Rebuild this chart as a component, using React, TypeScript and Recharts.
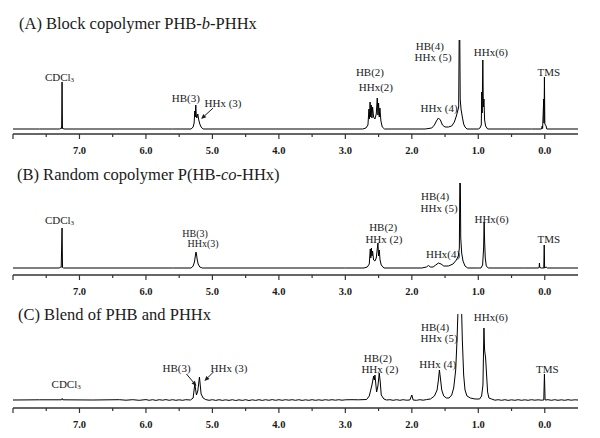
import React from "react";
import { LineChart, Line, XAxis, YAxis, ReferenceDot } from "recharts";

// chemical shift axis (ppm), drawn reversed as in NMR plots
const xTicks = [8, 7.5, 7, 6.5, 6, 5.5, 5, 4.5, 4, 3.5, 3, 2.5, 2, 1.5, 1, 0.5, 0];
const labeledTicks = [7, 6, 5, 4, 3, 2, 1, 0];

// [ppm, intensity]
const spectrumA: [number, number][] = [
  [8, 0], [7.6, 0], [7.3, 0], [7.28, 0.5], [7.272, 1.5], [7.268, 0.5], [7.262, 47], [7.256, 0.5], [7.25, 1], [7.24, 0],
  [5.6, 0], [5.32, 0], [5.29, 2], [5.275, 6], [5.265, 18], [5.258, 12], [5.25, 24], [5.243, 14], [5.235, 11], [5.22, 15], [5.205, 9], [5.19, 5], [5.17, 2], [5.14, 0],
  [3.2, 0], [2.74, 0], [2.69, 1], [2.66, 4], [2.645, 20], [2.637, 10], [2.628, 27], [2.62, 12], [2.61, 24], [2.6, 11], [2.59, 22], [2.575, 12], [2.555, 10], [2.535, 15], [2.52, 31], [2.51, 14], [2.5, 26], [2.49, 12], [2.48, 21], [2.465, 8], [2.445, 2], [2.41, 0],
  [1.8, 0], [1.7, 1], [1.66, 4], [1.63, 8], [1.6, 11], [1.57, 9], [1.54, 4], [1.5, 2], [1.45, 2], [1.4, 3], [1.36, 7], [1.33, 13], [1.31, 18], [1.295, 22], [1.288, 89], [1.278, 89], [1.272, 30], [1.26, 20], [1.24, 12], [1.22, 5], [1.2, 2], [1.17, 0],
  [1.0, 0], [0.975, 1], [0.955, 4], [0.948, 37], [0.942, 16], [0.932, 69], [0.924, 22], [0.915, 30], [0.905, 9], [0.89, 3], [0.86, 0],
  [0.2, 0], [0.05, 0], [0.038, 3], [0.032, 0.5], [0.016, 30], [0.011, 6], [0.005, 52], [-0.001, 5], [-0.02, 3], [-0.03, 0], [-0.5, 0],
];

const spectrumB: [number, number][] = [
  [8, 0], [7.3, 0], [7.285, 1], [7.275, 0.5], [7.262, 40], [7.255, 0.5], [7.24, 0],
  [5.6, 0], [5.32, 0], [5.29, 2], [5.27, 6], [5.255, 13], [5.248, 16], [5.24, 14], [5.23, 9], [5.215, 4], [5.19, 1], [5.15, 0],
  [3.0, 0], [2.72, 0], [2.67, 1], [2.64, 4], [2.625, 19], [2.617, 10], [2.608, 20], [2.6, 12], [2.59, 17], [2.575, 8], [2.555, 7], [2.535, 10], [2.51, 25], [2.5, 12], [2.49, 18], [2.478, 8], [2.46, 3], [2.42, 0],
  [1.85, 0], [1.78, 1], [1.75, 2.5], [1.72, 1], [1.68, 1], [1.64, 3], [1.6, 5], [1.56, 4], [1.52, 2], [1.45, 2], [1.38, 4], [1.33, 8], [1.3, 12], [1.285, 20], [1.278, 85], [1.27, 85], [1.264, 30], [1.25, 15], [1.23, 7], [1.2, 2], [1.16, 0],
  [1.0, 0], [0.96, 0], [0.935, 3], [0.92, 20], [0.912, 46], [0.904, 25], [0.895, 10], [0.88, 2], [0.85, 0],
  [0.3, 0], [0.1, 0], [0.085, 0.5], [0.08, 5], [0.075, 0.5], [0.05, 0], [0.015, 0], [0.008, 23], [0.002, 0], [-0.02, 1], [-0.04, 0], [-0.5, 0],
];

const spectrumC: [number, number][] = [
  [8, 0], [7.6, 0.2], [7.27, 0.2], [7.26, 1.5], [7.25, 0.2], [6.8, 0], [6.4, 0.3], [6.3, -0.2], [6.2, 0.3], [6.1, -0.3], [6.0, 0.4], [5.95, -0.3], [5.9, 0.3], [5.85, -0.4], [5.8, 0.3], [5.75, -0.2], [5.7, 0.4], [5.65, -0.3], [5.6, 0.3], [5.55, -0.3], [5.5, 0.2], [5.45, -0.3], [5.4, 0.3],
  [5.33, 0], [5.29, 2], [5.265, 16], [5.24, 5], [5.22, 9], [5.195, 23], [5.17, 6], [5.14, 2], [5.1, 0.4],
  [5.05, -0.3], [5.0, 0.3], [4.95, -0.4], [4.9, 0.3], [4.85, -0.4], [4.8, 0.2], [4.75, -0.4], [4.7, 0.3], [4.65, -0.5], [4.6, 0.2], [4.55, -0.4], [4.5, 0.3], [4.45, -0.5], [4.4, 0.2], [4.35, -0.4], [4.3, 0.3], [4.25, -0.4], [4.2, 0.3], [4.15, -0.3], [4.1, 0.4], [4.05, -0.3], [4.0, 0.3],
  [3.95, -0.3], [3.9, 0.3], [3.85, -0.2], [3.8, 0.3], [3.75, -0.3], [3.7, 0.3], [3.65, -0.4], [3.6, 0.2], [3.55, -0.3], [3.5, 0.3], [3.45, -0.3], [3.4, 0.2], [3.35, -0.3], [3.3, 0.3], [3.25, -0.2], [3.2, 0.3], [3.15, -0.2], [3.1, 0.3], [3.05, -0.2], [3.0, 0.2], [2.9, 0.3], [2.8, 0.2],
  [2.68, 0.5], [2.64, 4], [2.6, 15], [2.575, 24], [2.565, 20], [2.555, 25], [2.53, 8], [2.51, 14], [2.49, 27], [2.475, 18], [2.46, 5], [2.42, 1], [2.38, 0],
  [2.33, 0.3], [2.28, -0.3], [2.23, 0.3], [2.18, -0.3], [2.13, 0.3], [2.08, -0.2], [2.03, 0], [2.0, 5], [1.98, 0], [1.93, -0.3], [1.88, 0.3], [1.83, -0.2], [1.78, 0.4],
  [1.72, 1], [1.66, 4], [1.62, 10], [1.6, 20], [1.585, 30], [1.57, 22], [1.55, 10], [1.52, 4], [1.48, 2], [1.44, 2],
  [1.4, 5], [1.37, 12], [1.34, 30], [1.32, 60], [1.3, 100], [1.285, 130], [1.27, 130], [1.255, 100], [1.24, 60], [1.22, 25], [1.2, 10], [1.17, 4], [1.12, 2], [1.05, 1],
  [0.98, 1], [0.95, 4], [0.93, 15], [0.915, 72], [0.905, 50], [0.89, 42], [0.875, 25], [0.86, 8], [0.84, 2], [0.8, 1],
  [0.75, -0.2], [0.7, 0.3], [0.65, -0.3], [0.6, 0.3], [0.55, -0.4], [0.5, 0.2], [0.45, -0.3], [0.4, 0.3], [0.35, -0.3], [0.3, 0.2], [0.25, -0.3], [0.2, 0.3], [0.15, -0.2], [0.1, 0.2], [0.05, -0.2], [0.015, 0], [0.005, 26], [-0.005, 0],
  [-0.05, 0.3], [-0.1, -0.3], [-0.15, 0.3], [-0.2, -0.3], [-0.25, 0.2], [-0.3, -0.3], [-0.35, 0.3], [-0.4, -0.2], [-0.45, 0.2], [-0.5, 0],
];

type Note = { text: string; ppm: number; y: number; sub?: string; size?: number };
type Arrow = { ppm: number; y: number; dx: number; dy: number };

const labelsA: Note[] = [
  { text: "CDCl", sub: "3", ppm: 7.3, y: 52 },
  { text: "HB(3)", ppm: 5.4, y: 31 },
  { text: "HHx (3)", ppm: 4.84, y: 26 },
  { text: "HB(2)", ppm: 2.63, y: 57 },
  { text: "HHx(2)", ppm: 2.54, y: 42 },
  { text: "HHx (4)", ppm: 1.59, y: 21 },
  { text: "HB(4)", ppm: 1.73, y: 83 },
  { text: "HHx (5)", ppm: 1.68, y: 72 },
  { text: "HHx(6)", ppm: 0.81, y: 77 },
  { text: "TMS", ppm: -0.06, y: 57 },
];
const arrowsA: Arrow[] = [{ ppm: 5.17, y: 10, dx: 12, dy: -11 }];

const labelsB: Note[] = [
  { text: "CDCl", sub: "3", ppm: 7.3, y: 48 },
  { text: "HB(3)", ppm: 5.26, y: 35, size: 10 },
  { text: "HHx(3)", ppm: 5.14, y: 25, size: 10 },
  { text: "HB(2)", ppm: 2.43, y: 41 },
  { text: "HHx (2)", ppm: 2.42, y: 29 },
  { text: "HHx(4)", ppm: 1.53, y: 14 },
  { text: "HB(4)", ppm: 1.65, y: 72 },
  { text: "HHx (5)", ppm: 1.59, y: 60 },
  { text: "HHx(6)", ppm: 0.8, y: 49 },
  { text: "TMS", ppm: -0.06, y: 29 },
];

const labelsC: Note[] = [
  { text: "CDCl", sub: "3", ppm: 7.2, y: 16 },
  { text: "HB(3)", ppm: 5.54, y: 32 },
  { text: "HHx (3)", ppm: 4.75, y: 32 },
  { text: "HB(2)", ppm: 2.51, y: 42 },
  { text: "HHx (2)", ppm: 2.48, y: 31 },
  { text: "HHx (4)", ppm: 1.61, y: 36 },
  { text: "HB(4)", ppm: 1.65, y: 73 },
  { text: "HHx (5)", ppm: 1.59, y: 62 },
  { text: "HHx(6)", ppm: 0.81, y: 83 },
  { text: "TMS", ppm: -0.04, y: 31 },
];
const arrowsC: Arrow[] = [
  { ppm: 5.24, y: 14, dx: -10, dy: -12 },
  { ppm: 5.12, y: 19, dx: 9, dy: -9 },
];

const serif = "'Liberation Serif', 'Times New Roman', serif";
const ink = "#1a1a1a";

const PpmTick = ({ x, y, payload }: any) => {
  const v = payload.value;
  const major = Number.isInteger(v);
  return (
    <g>
      <line x1={x} y1={y} x2={x} y2={y + (major ? 5 : 3)} stroke="#333" strokeWidth={1.2} />
      {labeledTicks.includes(v) && (
        <text x={x} y={y + 16} textAnchor="middle" dominantBaseline="central"
          fontFamily={serif} fontWeight="bold" fontSize={10.5} fill={ink}>
          {v.toFixed(1)}
        </text>
      )}
    </g>
  );
};

const noteShape = (n: Note) => (p: any) => (
  <text x={p.cx} y={p.cy} textAnchor="middle" dominantBaseline="central"
    fontFamily={serif} fontSize={n.size ?? 11} fill={ink}>
    {n.text}
    {n.sub && <tspan fontSize={7} dy={3}>{n.sub}</tspan>}
  </text>
);

const arrowShape = (a: Arrow) => (p: any) => {
  const len = Math.hypot(a.dx, a.dy);
  const ux = -a.dx / len, uy = -a.dy / len;
  const bx = p.cx - ux * 5, by = p.cy - uy * 5;
  const pts = `${p.cx},${p.cy} ${bx - uy * 2.2},${by + ux * 2.2} ${bx + uy * 2.2},${by - ux * 2.2}`;
  return (
    <g>
      <line x1={p.cx + a.dx} y1={p.cy + a.dy} x2={bx} y2={by} stroke={ink} strokeWidth={1} />
      <polygon points={pts} fill={ink} />
    </g>
  );
};

type PanelProps = {
  top: number; height: number; marginTop: number;
  spectrum: [number, number][]; yDomain: [number, number];
  labels: Note[]; arrows: Arrow[];
};

const Panel = ({ top, height, marginTop, spectrum, yDomain, labels, arrows }: PanelProps) => {
  const data = spectrum.map(([ppm, v]) => ({ ppm, v }));
  return (
    <div style={{ position: "absolute", left: 0, top }}>
      <LineChart width={600} height={height} data={data}
        margin={{ top: marginTop, right: 22, bottom: 0, left: 13 }}>
        <XAxis dataKey="ppm" type="number" domain={[-0.5, 8]} reversed ticks={xTicks}
          interval={0} tick={<PpmTick />} tickLine={false} tickSize={0} tickMargin={0}
          axisLine={{ stroke: "#333", strokeWidth: 1.5 }} height={26} allowDataOverflow />
        <YAxis hide domain={yDomain} allowDataOverflow />
        <Line type="linear" dataKey="v" stroke="#000" strokeWidth={1} dot={false}
          isAnimationActive={false} />
        {labels.map((n, i) => (
          <ReferenceDot key={"n" + i} x={n.ppm} y={n.y} r={0} ifOverflow="visible" shape={noteShape(n)} />
        ))}
        {arrows.map((a, i) => (
          <ReferenceDot key={"a" + i} x={a.ppm} y={a.y} r={0} ifOverflow="visible" shape={arrowShape(a)} />
        ))}
      </LineChart>
    </div>
  );
};

const titleStyle = (top: number, left: number): React.CSSProperties => ({
  position: "absolute", top, left, fontFamily: serif, fontSize: 16.5,
  lineHeight: "20px", color: ink, whiteSpace: "nowrap",
});

export default function App() {
  return (
    <div style={{ position: "absolute", left: 0, top: 0, width: 600, height: 438, background: "#fff" }}>
      <Panel top={0} height={160} marginTop={40} spectrum={spectrumA} yDomain={[-5, 89]} labels={labelsA} arrows={arrowsA} />
      <Panel top={160} height={141} marginTop={23} spectrum={spectrumB} yDomain={[-7, 85]} labels={labelsB} arrows={[]} />
      <Panel top={301} height={133} marginTop={13} spectrum={spectrumC} yDomain={[-8, 86]} labels={labelsC} arrows={arrowsC} />
      <div style={titleStyle(14, 19)}>(A) Block copolymer PHB-<i>b</i>-PHHx</div>
      <div style={titleStyle(165, 17)}>(B) Random copolymer P(HB-<i>co</i>-HHx)</div>
      <div style={titleStyle(305, 18)}>(C) Blend of PHB and PHHx</div>
    </div>
  );
}
